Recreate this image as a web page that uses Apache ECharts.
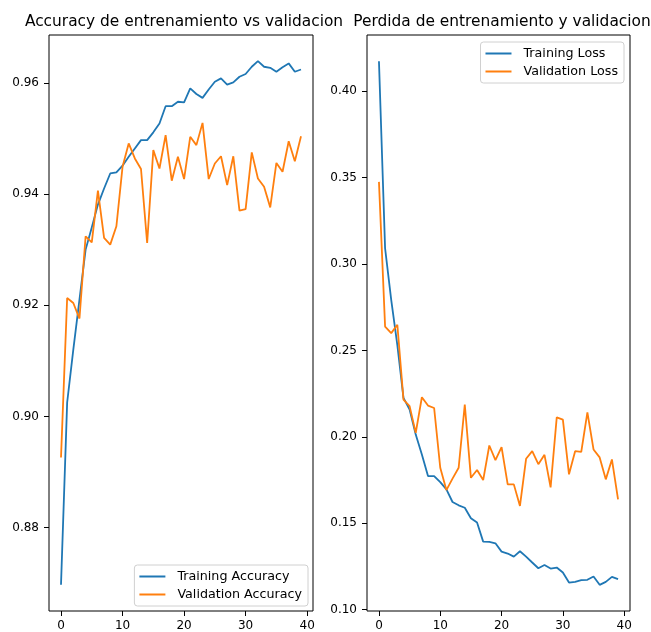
<!DOCTYPE html>
<html>
<head>
<meta charset="utf-8">
<script src="https://cdn.jsdelivr.net/npm/echarts@6/dist/echarts.min.js"></script>
<style>
  html, body { margin: 0; padding: 0; background: #fff; }
  #chart { width: 651px; height: 632px; }
</style>
</head>
<body>
<div id="chart"></div>
<script>
const epochs = Array.from({ length: 40 }, (_, i) => i)

const trainAcc = [
  0.8697, 0.9025, 0.9120, 0.9210, 0.9300, 0.9340, 0.9381, 0.9410, 0.9437, 0.9439,
  0.9451, 0.9467, 0.9482, 0.9497, 0.9497, 0.9511, 0.9527, 0.9558, 0.9558, 0.9566,
  0.9565, 0.9590, 0.9580, 0.9573, 0.9588, 0.9602, 0.9608, 0.9597, 0.9601, 0.9611,
  0.9616, 0.9629, 0.9639, 0.9629, 0.9627, 0.9620, 0.9628, 0.9635, 0.9620, 0.9624,
]
const valAcc = [
  0.8926, 0.9213, 0.9204, 0.9176, 0.9324, 0.9313, 0.9406, 0.9321, 0.9309, 0.9342,
  0.9449, 0.9491, 0.9464, 0.9445, 0.9312, 0.9479, 0.9446, 0.9506, 0.9424, 0.9467,
  0.9427, 0.9503, 0.9488, 0.9528, 0.9427, 0.9455, 0.9468, 0.9416, 0.9468, 0.9370,
  0.9373, 0.9475, 0.9428, 0.9413, 0.9376, 0.9456, 0.9440, 0.9495, 0.9459, 0.9504,
]
const trainLoss = [
  0.4173, 0.3091, 0.2792, 0.2530, 0.2225, 0.2158, 0.2013, 0.1898, 0.1773, 0.1773,
  0.1738, 0.1696, 0.1623, 0.1604, 0.1590, 0.1529, 0.1504, 0.1394, 0.1392, 0.1384,
  0.1336, 0.1325, 0.1307, 0.1338, 0.1307, 0.1273, 0.1240, 0.1259, 0.1238, 0.1244,
  0.1215, 0.1157, 0.1161, 0.1171, 0.1173, 0.1192, 0.1144, 0.1161, 0.1190, 0.1177,
]
const valLoss = [
  0.3475, 0.2638, 0.2600, 0.2648, 0.2215, 0.2177, 0.2023, 0.2229, 0.2181, 0.2167,
  0.1821, 0.1692, 0.1758, 0.1821, 0.2186, 0.1763, 0.1808, 0.1750, 0.1950, 0.1865,
  0.1940, 0.1725, 0.1725, 0.1600, 0.1873, 0.1917, 0.1842, 0.1896, 0.1708, 0.2113,
  0.2100, 0.1783, 0.1917, 0.1913, 0.2142, 0.1927, 0.1881, 0.1754, 0.1869, 0.1638,
]

const xTicks = [0, 10, 20, 30, 40]
const accTicks = [0.88, 0.90, 0.92, 0.94, 0.96]
const lossTicks = [0.10, 0.15, 0.20, 0.25, 0.30, 0.35, 0.40]

const FONT = 'DejaVu Sans'
const BLUE = '#1f77b4'
const ORANGE = '#ff7f0e'

// matplotlib-like 5% margins
function padded(arrs) {
  const all = [].concat(...arrs)
  const lo = Math.min(...all), hi = Math.max(...all)
  const p = (hi - lo) * 0.05
  return [lo - p, hi + p]
}
const xExt = padded([epochs])
const accExt = padded([trainAcc, valAcc])
const lossExt = padded([trainLoss, valLoss])

function xAxis(gridIndex) {
  return {
    type: 'value', gridIndex, min: xExt[0], max: xExt[1],
    splitLine: { show: false },
    axisLine: { show: false, onZero: false },
    axisTick: { show: true, length: 5, customValues: xTicks, lineStyle: { color: '#000' } },
    axisLabel: { customValues: xTicks, color: '#000', fontFamily: FONT, fontSize: 12, margin: 9 },
  }
}
function yAxis(gridIndex, ext, ticks) {
  return {
    type: 'value', gridIndex, min: ext[0], max: ext[1],
    splitLine: { show: false },
    axisLine: { show: false, onZero: false },
    axisTick: { show: true, length: 5, customValues: ticks, lineStyle: { color: '#000' } },
    axisLabel: {
      customValues: ticks, color: '#000', fontFamily: FONT, fontSize: 12, margin: 10,
      formatter: (v) => v.toFixed(2),
    },
  }
}
function line(name, arr, color, idx) {
  return {
    name, type: 'line', xAxisIndex: idx, yAxisIndex: idx,
    data: arr.map((v, i) => [epochs[i], v]),
    symbol: 'none', lineStyle: { color, width: 1.8 }, itemStyle: { color },
  }
}
const legendBase = {
  orient: 'vertical', icon: 'rect', itemWidth: 26, itemHeight: 2, itemGap: 5,
  padding: [5, 6, 5, 5], backgroundColor: '#fff', borderColor: '#d0d0d0',
  borderWidth: 1, borderRadius: 3,
  textStyle: { color: '#000', fontFamily: FONT, fontSize: 12.7, padding: [0, 0, 0, 7] },
}
const titleStyle = { fontFamily: FONT, fontSize: 15.4, fontWeight: 'normal', color: '#000' }

const chart = echarts.init(document.getElementById('chart'))
chart.setOption({
  animation: false,
  backgroundColor: '#fff',
  title: [
    { text: 'Accuracy de entrenamiento vs validacion', left: 179, top: 9, textAlign: 'center', textStyle: titleStyle },
    { text: 'Perdida de entrenamiento y validacion', left: 497, top: 9, textAlign: 'center', textStyle: titleStyle },
  ],
  grid: [
    { left: 49, top: 35, width: 264, height: 577, show: true, borderColor: '#000', borderWidth: 1 },
    { left: 367, top: 35, width: 263, height: 577, show: true, borderColor: '#000', borderWidth: 1 },
  ],
  legend: [
    { ...legendBase, data: ['Training Accuracy', 'Validation Accuracy'], right: 343, bottom: 26 },
    { ...legendBase, data: ['Training Loss', 'Validation Loss'], right: 27, top: 42 },
  ],
  xAxis: [xAxis(0), xAxis(1)],
  yAxis: [yAxis(0, accExt, accTicks), yAxis(1, lossExt, lossTicks)],
  series: [
    line('Training Accuracy', trainAcc, BLUE, 0),
    line('Validation Accuracy', valAcc, ORANGE, 0),
    line('Training Loss', trainLoss, BLUE, 1),
    line('Validation Loss', valLoss, ORANGE, 1),
  ],
})
window.addEventListener('resize', () => chart.resize())
</script>
</body>
</html>
